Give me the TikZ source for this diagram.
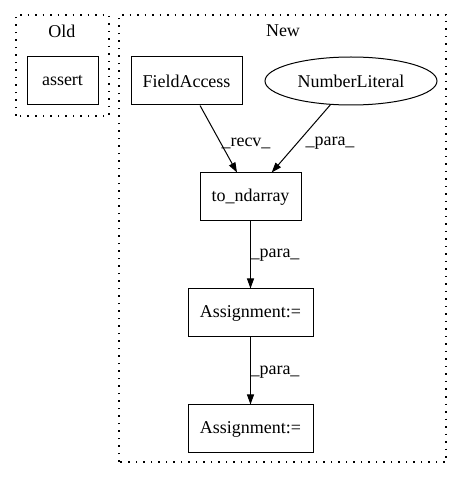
\documentclass[tikz,border=0pt]{standalone}
\usepackage{fontspec}
\setmainfont{Liberation Serif}
\usetikzlibrary{arrows.meta,shapes.geometric}

\begin{document}
\begin{tikzpicture}[x=1pt, y=1pt,
        boxnode/.style={draw, line width=1pt, minimum height=48pt, inner sep=0pt, font=\fontsize{18}{20}\selectfont},
        ellnode/.style={draw, ellipse, line width=1pt, minimum width=172pt, minimum height=48pt, inner sep=0pt, font=\fontsize{18}{20}\selectfont},
        cluster/.style={line width=1.2pt, dash pattern=on 1.5pt off 6pt},
        flow/.style={line width=1pt, -{Triangle[length=10pt, width=7pt]}},
        lbl/.style={font=\fontsize{18}{20}\selectfont, inner sep=0pt}]
        \useasboundingbox (0, 0) rectangle (463, 480);

        % clusters
        \draw[cluster] (16, 364) rectangle (109, 465);
        \draw[cluster] (119, 18) rectangle (446, 465);
        \node[lbl] (old) at (62, 449) {Old};
        \node[lbl] (new) at (283, 449) {New};

        % nodes
        \node[boxnode, minimum width=71pt] (assert) at (62.5, 399) {assert};
        \node[boxnode, minimum width=111pt] (field) at (186.5, 399) {FieldAccess};
        \node[ellnode] (number) at (351, 399) {NumberLiteral};
        \node[boxnode, minimum width=101pt] (tondarray) at (250.5, 283) {to\_ndarray};
        \node[boxnode, minimum width=125pt] (assignA) at (250.5, 167) {Assignment:=};
        \node[boxnode, minimum width=125pt] (assignB) at (250.5, 51) {Assignment:=};

        % edges
        \draw[flow] (field) -- (tondarray);
        \draw[flow] (number) -- (tondarray);
        \draw[flow] (tondarray) -- (assignA);
        \draw[flow] (assignA) -- (assignB);

        \node[lbl] (recv) at (246, 337) {\_recv\_};
        \node[lbl] (paraA) at (330, 337) {\_para\_};
        \node[lbl] (paraB) at (275, 225) {\_para\_};
        \node[lbl] (paraC) at (275, 108) {\_para\_};
    \end{tikzpicture}
\end{document}
